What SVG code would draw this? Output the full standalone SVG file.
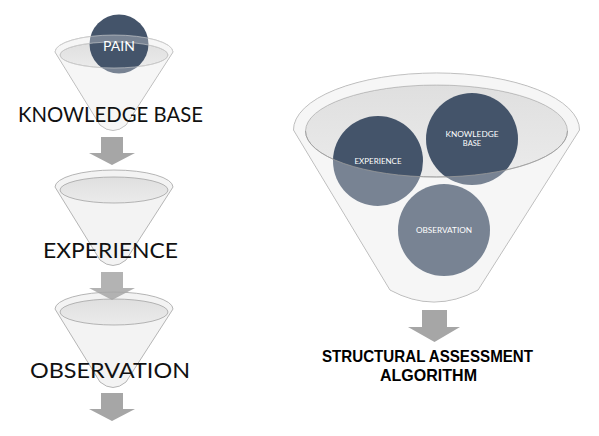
<svg xmlns="http://www.w3.org/2000/svg" width="599" height="436" viewBox="0 0 599 436">
<style>
.cone{fill:#f3f3f3;stroke:#a3a3a3;stroke-width:0.8}
.inner{fill:url(#innerGrad);stroke:#a3a3a3;stroke-width:0.8}
.innerline{fill:none;stroke:#9a9a9a;stroke-width:0.8}
.rimline{fill:none;stroke:#d8d8d8;stroke-width:0.8;opacity:0.7}
.veil{fill:#ffffff;opacity:0.28;fill-rule:evenodd}
.arrow{fill:#a6a6a6}
.dark{fill:#44546a}
.big{font-family:Lato,"Liberation Sans",sans-serif;font-weight:normal;font-size:21px;fill:#111111}
.small{font-family:Lato,"Liberation Sans",sans-serif;font-size:7.5px;fill:#ffffff;text-anchor:middle}
.title{font-family:"Liberation Sans",Arial,sans-serif;font-weight:bold;font-size:16.5px;fill:#000000;text-anchor:middle}
</style>
<defs>
<linearGradient id="innerGrad" x1="0" y1="0" x2="0" y2="1">
<stop offset="0" stop-color="#dfdfdf"/>
<stop offset="1" stop-color="#ebebeb"/>
</linearGradient>
<g id="smallFunnel">
<path class="cone" d="M55,52 A59,17 0 0 1 173,52 L126,125 Q113,136 100,125 Z"/>
<ellipse class="inner" cx="114" cy="55" rx="54" ry="13"/>
</g>
<path id="arrowShape" d="M0,0 H22 V16 H34 L11,28 L-12,16 H0 Z"/>
</defs>

<g id="funnel-pain">
<use href="#smallFunnel"/>
<circle class="dark" cx="119" cy="44" r="29.5"/>
<path class="veil" d="M55,52 A59,17 0 0 1 173,52 L126,125 Q113,136 100,125 Z M60,55 A54,13 0 1 0 168,55 A54,13 0 1 0 60,55 Z"/>
<path class="rimline" d="M55,52 A59,17 0 0 1 173,52"/>
<ellipse class="rimline" cx="114" cy="55" rx="54" ry="13"/>
<text x="119" y="50.5" text-anchor="middle" font-family="Lato,'Liberation Sans',sans-serif" font-size="14" fill="#ffffff">PAIN</text>
</g>

<g id="funnel-experience">
<use href="#smallFunnel" transform="translate(0,135)"/>
</g>

<g id="funnel-observation">
<use href="#smallFunnel" transform="translate(0,257)"/>
</g>

<g id="connectors">
<use class="arrow" href="#arrowShape" transform="translate(101,137)"/>
<use class="arrow" href="#arrowShape" transform="translate(101,272)" opacity="0.85"/>
<use class="arrow" href="#arrowShape" transform="translate(101,393)"/>
<path class="arrow" d="M422,310 H447 V327 H460 L434.5,342 L408,327 H422 Z"/>
</g>

<g id="label-knowledge-base">
<text class="big" x="18" y="122" textLength="185" lengthAdjust="spacingAndGlyphs">KNOWLEDGE BASE</text>
</g>
<g id="label-experience">
<text class="big" x="43" y="258" textLength="135" lengthAdjust="spacingAndGlyphs">EXPERIENCE</text>
</g>
<g id="label-observation">
<text class="big" x="30" y="378" textLength="160" lengthAdjust="spacingAndGlyphs">OBSERVATION</text>
</g>

<g id="big-funnel">
<path class="cone" d="M293.5,130 A143,57 0 0 1 579.5,130 L478,290 Q434,314 390,290 Z"/>
<ellipse class="inner" cx="436.5" cy="131" rx="131" ry="46"/>
</g>

<g id="node-experience">
<circle class="dark" cx="378" cy="161" r="45"/>
</g>
<g id="node-knowledge-base">
<circle class="dark" cx="472" cy="139" r="46"/>
</g>
<g id="node-observation">
<circle class="dark" cx="444" cy="230" r="46"/>
</g>

<g id="big-funnel-front">
<path class="veil" d="M293.5,130 A143,57 0 0 1 579.5,130 L478,290 Q434,314 390,290 Z M305.5,131 A131,46 0 1 0 567.5,131 A131,46 0 1 0 305.5,131 Z"/>
<path class="innerline" d="M305.5,131 A131,46 0 0 0 567.5,131"/>
<text class="small" x="378" y="164" textLength="47" lengthAdjust="spacingAndGlyphs">EXPERIENCE</text>
<text class="small" x="472" y="137" textLength="53" lengthAdjust="spacingAndGlyphs">KNOWLEDGE</text>
<text class="small" x="472" y="146">BASE</text>
<text class="small" x="444" y="233" textLength="56" lengthAdjust="spacingAndGlyphs">OBSERVATION</text>
</g>

<g id="label-algorithm">
<text class="title" x="427.5" y="362" textLength="211" lengthAdjust="spacingAndGlyphs">STRUCTURAL ASSESSMENT</text>
<text class="title" x="428.5" y="381" textLength="97" lengthAdjust="spacingAndGlyphs">ALGORITHM</text>
</g>
</svg>
